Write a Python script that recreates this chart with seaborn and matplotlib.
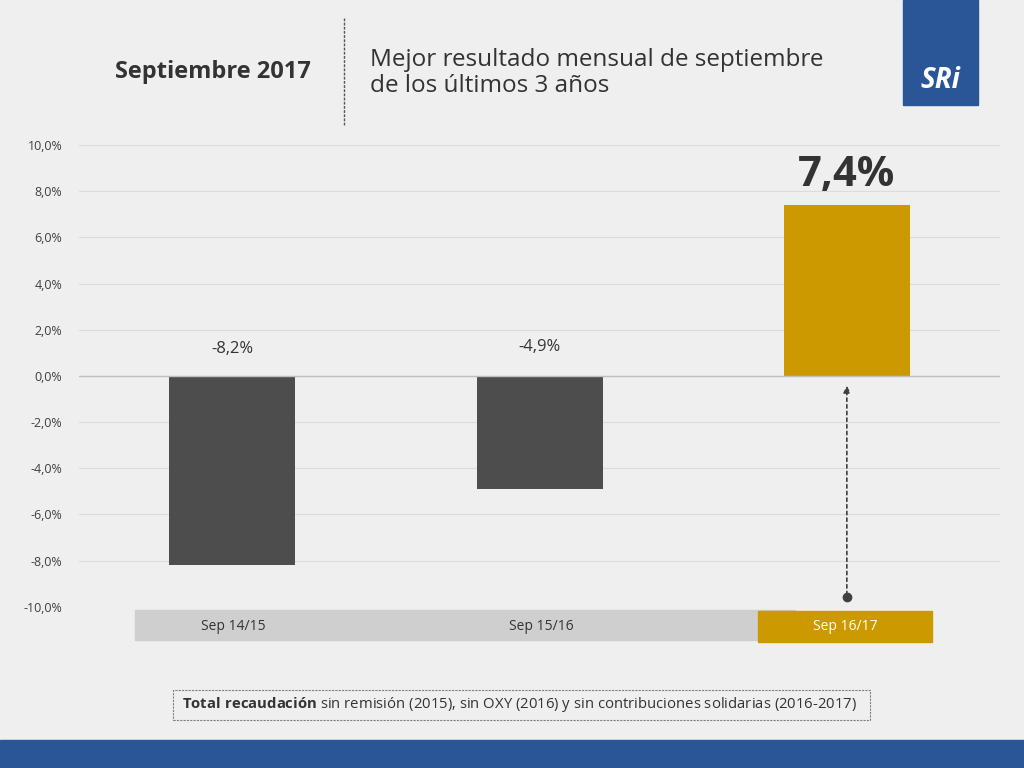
import matplotlib
matplotlib.use("Agg")
import matplotlib.pyplot as plt
from matplotlib.patches import Rectangle
import seaborn as sns
import pandas as pd

plt.rcParams["mathtext.fontset"] = "custom"
plt.rcParams["mathtext.bf"] = "Open Sans:bold"
plt.rcParams["mathtext.rm"] = "Open Sans"

categories = ["Sep 14/15", "Sep 15/16", "Sep 16/17"]
values = [-8.2, -4.9, 7.4]
labels = ["-8,2%", "-4,9%", "7,4%"]
yticks = [-10, -8, -6, -4, -2, 0, 2, 4, 6, 8, 10]
colors = ["#4d4d4d", "#4d4d4d", "#cc9a00"]

df = pd.DataFrame({"cat": categories, "val": values})

fig = plt.figure(figsize=(10.24, 7.68), dpi=100)
fig.patch.set_facecolor("#efefef")
ax = fig.add_axes([0.077, 0.210, 0.90, 0.601])
ax.set_facecolor("none")
sns.barplot(data=df, x="cat", y="val", hue="cat", palette=colors, width=0.41,
            legend=False, ax=ax, saturation=1)
ax.set_xlim(-0.5, 2.5)
ax.set_ylim(-10, 10)
ax.set_yticks(yticks)
ax.set_yticklabels([f"{t:.1f}%".replace(".", ",") for t in yticks], fontsize=9, color="#404040", fontfamily="Open Sans")
ax.set_xticks([])
ax.set_xlabel(""); ax.set_ylabel("")
ax.grid(axis="y", color="#dcdcdc", lw=0.8)
ax.set_axisbelow(True)
for s in ax.spines.values():
    s.set_visible(False)
ax.axhline(0, color="#bfbfbf", lw=1)
ax.tick_params(length=0, pad=12)

ax.text(0, 0.8, labels[0], ha="center", va="bottom", fontsize=12, color="#333333", fontfamily="Open Sans")
ax.text(1, 0.9, labels[1], ha="center", va="bottom", fontsize=12, color="#333333", fontfamily="Open Sans")
ax.text(2, values[2] + 0.4, labels[2], ha="center", va="bottom", fontsize=30, color="#333333", fontfamily="Open Sans", fontweight="bold")

ax.annotate("", xy=(2, -0.3), xytext=(2, -9.6),
            arrowprops=dict(arrowstyle="-|>", linestyle=(0, (2, 2)), color="#404040", lw=1.2))
ax.plot([2], [-9.6], "o", color="#404040", ms=6, clip_on=False)

fig.patches.append(Rectangle((135/1024, 1-640/768), 660/1024, 30/768, transform=fig.transFigure, color="#cfcfcf"))
fig.patches.append(Rectangle((758/1024, 1-642/768), 174/1024, 31/768, transform=fig.transFigure, color="#cc9a00"))
for xc, c, col in [(233, categories[0], "#333333"), (541, categories[1], "#333333"), (845, categories[2], "white")]:
    fig.text(xc/1024, 1-627/768, c, ha="center", va="center", fontsize=10, color=col, fontfamily="Open Sans")

fig.text(213/1024, 1-72/768, "Septiembre 2017", ha="center", va="center", fontsize=17, fontweight="bold", color="#333333", fontfamily="Open Sans")
fig.lines.append(plt.Line2D([344/1024, 344/1024], [1-18/768, 1-125/768], transform=fig.transFigure, color="#555555", lw=1, ls=(0, (2, 1))))
fig.text(370/1024, 1-73/768, "Mejor resultado mensual de septiembre\nde los últimos 3 años", ha="left", va="center", fontsize=17.5, color="#333333", fontfamily="Open Sans", linespacing=1.15)
fig.patches.append(Rectangle((903/1024, 1-105/768), 75/1024, 105/768, transform=fig.transFigure, color="#2a5597"))
fig.text(940/1024, 1-80/768, "SRi", ha="center", va="center", fontsize=20, fontweight="bold", fontstyle="italic", color="white", fontfamily="Open Sans")

fig.patches.append(Rectangle((173/1024, 1-720/768), 697/1024, 30/768, transform=fig.transFigure, fill=False, ec="#808080", lw=0.8, ls=(0, (2, 1))))
fig.text(182/1024, 1-705/768, r"$\bf{Total\ recaudación}$ sin remisión (2015), sin OXY (2016) y sin contribuciones solidarias (2016-2017)",
         ha="left", va="center", fontsize=10.7, color="#333333", fontfamily="Open Sans")

fig.patches.append(Rectangle((0, 0), 1, 28/768, transform=fig.transFigure, color="#2a5597"))

fig.savefig("out.png", dpi=100, facecolor=fig.get_facecolor())
